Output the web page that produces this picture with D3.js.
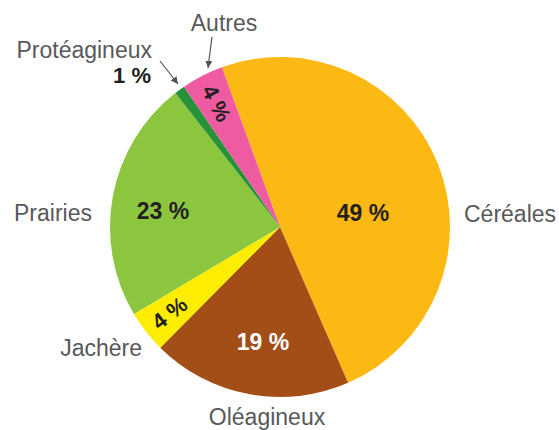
<!DOCTYPE html>
<html>
<head>
<meta charset="utf-8">
<script src="https://cdn.jsdelivr.net/npm/d3@7"></script>
<style>
  html, body { margin: 0; padding: 0; background: #fff; }
  svg { display: block; font-family: "Liberation Sans", Arial, Helvetica, sans-serif; }
</style>
</head>
<body>
<svg id="chart" width="559" height="430"></svg>
<script>
// ---- data ----
const categories = ["Céréales", "Oléagineux", "Jachère", "Prairies", "Protéagineux", "Autres"];
const values = [49, 19, 4, 23, 1, 4];
const percentLabels = ["49 %", "19 %", "4 %", "23 %", "1 %", "4 %"];

// ---- styles ----
const colors = ["#FDB913", "#A34E17", "#FFED00", "#8CC63F", "#27923A", "#EF5BA1"];
const pctColors = ["#231f20", "#ffffff", "#231f20", "#231f20", "#231f20", "#231f20"];

// ---- layout ----
const W = 559, H = 430;
const cx = 280, cy = 227, R = 170;
const startDeg = -20;
// percentage label placement: "pos" = baseline offset from centre, "rot" = along radius, rotated
const pctLayout = [
  {mode: "pos", dx: 83, dy: -6},
  {mode: "pos", dx: -17, dy: 123},
  {mode: "rot", r: 140},
  {mode: "pos", dx: -117, dy: -8},
  {mode: "abs", x: 132, y: 83},
  {mode: "rot", r: 139}
];
// category label anchors (text anchor point / baseline)
const catLayout = [
  {x: 464, y: 222, anchor: "start"},
  {x: 267, y: 425, anchor: "middle"},
  {x: 142, y: 356, anchor: "end"},
  {x: 92, y: 221, anchor: "end"},
  {x: 152, y: 58, anchor: "end"},
  {x: 224, y: 31, anchor: "middle"}
];
// leader arrows for small slices
const arrows = [
  {i: 4, x1: 160, y1: 61, x2: 178, y2: 84},
  {i: 5, x1: 212, y1: 37, x2: 208, y2: 68}
];

const svg = d3.select("#chart");
const defs = svg.append("defs");
defs.append("marker")
  .attr("id", "arrowhead")
  .attr("viewBox", "0 0 10 10")
  .attr("refX", 10).attr("refY", 5)
  .attr("markerWidth", 6).attr("markerHeight", 6)
  .attr("orient", "auto")
  .append("path").attr("d", "M0,0 L10,5 L0,10 z").attr("fill", "#555");

const toRad = d => d * Math.PI / 180;
const pie = d3.pie().sort(null).value(d => d)
  .startAngle(toRad(startDeg)).endAngle(toRad(startDeg + 360));
const arcs = pie(values);
const arc = d3.arc().innerRadius(0).outerRadius(R);

const g = svg.append("g").attr("transform", `translate(${cx},${cy})`);
g.selectAll("path.slice").data(arcs).enter().append("path")
  .attr("class", "slice")
  .attr("d", arc)
  .attr("fill", (d, i) => colors[i]);

// percentage labels
arcs.forEach((d, i) => {
  const L = pctLayout[i];
  const mid = (d.startAngle + d.endAngle) / 2;
  const t = svg.append("text")
    .text(percentLabels[i])
    .attr("font-size", 23)
    .attr("font-weight", "bold")
    .attr("fill", pctColors[i]);
  if (L.mode === "pos") {
    t.attr("x", cx + L.dx).attr("y", cy + L.dy).attr("text-anchor", "middle");
  } else if (L.mode === "abs") {
    t.attr("x", L.x).attr("y", L.y).attr("text-anchor", "middle").attr("font-size", 22);
  } else {
    const px = cx + L.r * Math.sin(mid), py = cy - L.r * Math.cos(mid);
    const rot = mid * 180 / Math.PI + 90;
    t.attr("font-size", 22)
      .attr("text-anchor", "middle")
      .attr("dominant-baseline", "central")
      .attr("transform", `translate(${px},${py}) rotate(${rot})`);
  }
});

// category labels
categories.forEach((c, i) => {
  const L = catLayout[i];
  svg.append("text")
    .attr("x", L.x).attr("y", L.y)
    .attr("text-anchor", L.anchor)
    .attr("font-size", 23)
    .attr("fill", "#58595b")
    .text(c);
});

// arrows
arrows.forEach(a => {
  svg.append("line")
    .attr("x1", a.x1).attr("y1", a.y1).attr("x2", a.x2).attr("y2", a.y2)
    .attr("stroke", "#555").attr("stroke-width", 1.2)
    .attr("marker-end", "url(#arrowhead)");
});
</script>
</body>
</html>
